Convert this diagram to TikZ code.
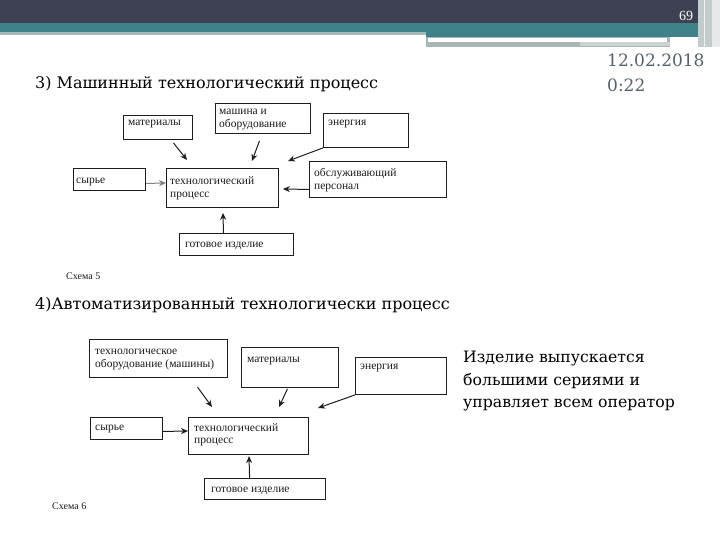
\documentclass[tikz,border=0pt]{standalone}
\usepackage{fontspec}
\setmainfont{Liberation Serif}
\newfontfamily\ttlfont{DejaVu Serif}
\usetikzlibrary{arrows.meta}
\definecolor{hdark}{HTML}{3E4152}
\definecolor{hteal}{HTML}{3F8189}
\definecolor{hlight}{HTML}{A7B9BC}
\definecolor{hgray}{HTML}{A9B6B8}
\definecolor{dategray}{HTML}{56626A}
\definecolor{boxline}{HTML}{1E1E1E}
\definecolor{boxtext}{HTML}{1A1A1A}
\begin{document}
\begin{tikzpicture}[x=1pt,y=-1pt,
  box/.style={draw=boxline,line width=0.9pt,rectangle,anchor=north west,inner sep=0pt},
  txt/.style={anchor=north west,inner sep=0pt,align=left,text=boxtext,
    font=\fontsize{11.5}{12.5}\selectfont},
  arr/.style={-{Stealth[length=7pt,width=6pt]},line width=1pt,draw=boxline},
  title/.style={anchor=base west,inner sep=0pt,font=\ttlfont\fontsize{16}{18}\selectfont},
  datestyle/.style={anchor=base west,inner sep=0pt,text=dategray,font=\ttlfont\fontsize{17}{24}\selectfont},
  schemecap/.style={anchor=base west,inner sep=0pt,font=\fontsize{10}{12}\selectfont,text=boxtext}]
\useasboundingbox (0,0) rectangle (720,540);
\fill[white] (0,0) rectangle (720,540);
% header
\fill[hdark] (0,0) rectangle (720,23);
\fill[hteal] (0,23) rectangle (700,32);
\fill[hlight] (0,32) rectangle (426,35);
\fill[hteal] (426,32) rectangle (700,37);
\fill[hgray] (426,37) rectangle (670,47);
\fill[white] (428,38) rectangle (667,42);
\fill[hgray!60] (580,42) rectangle (670,46);
\fill[hgray!70] (698,0) rectangle (712,47);
\fill[white!70!hgray] (712,0) rectangle (720,47);
\draw[white!80!hgray,line width=1pt] (704,0) -- (704,47);
\node[anchor=base,inner sep=0pt,text=white,font=\fontsize{14}{16}\selectfont] (pg) at (686,21) {69};
% date
\node[datestyle] (date) at (607,67) {12.02.2018};
\node[datestyle] (time) at (607,92) {0:22};
% titles
\node[title] (t1) at (35,89) {3) Машинный технологический процесс};
\node[title] (t2) at (35,309) {4)Автоматизированный технологически процесс};
\node[schemecap] (c5) at (66,279) {Схема 5};
\node[schemecap] (c6) at (52,509) {Схема 6};
\node[anchor=north west,inner sep=0pt,align=left,font=\ttlfont\fontsize{15.7}{22.5}\selectfont] (rt) at (463,351) {Изделие выпускается\\большими сериями и\\управляет всем оператор};

% Diagram 1
\node[box,minimum width=69pt,minimum height=24pt] (m1) at (123,115) {};
\node[txt] (m1t) at ([shift={(5,5)}]m1.north west) {материалы};
\node[box,minimum width=95pt,minimum height=30pt] (o1) at (215,103) {};
\node[txt] (o1t) at ([shift={(4,6)}]o1.north west) {машина и\\оборудование};
\node[box,minimum width=85pt,minimum height=34pt] (e1) at (323,113) {};
\node[txt] (e1t) at ([shift={(5,7)}]e1.north west) {энергия};
\node[box,minimum width=72pt,minimum height=22pt] (s1) at (73,168) {};
\node[txt] (s1t) at ([shift={(3,10)}]s1.north west) {сырье};
\node[box,minimum width=112pt,minimum height=39pt] (p1) at (166,168) {};
\node[txt,font=\fontsize{11.5}{13.5}\selectfont] (p1t) at ([shift={(4,8)}]p1.north west) {технологический\\процесс};
\node[box,minimum width=137pt,minimum height=36pt] (h1) at (309,161) {};
\node[txt,font=\fontsize{11.5}{13}\selectfont] (h1t) at ([shift={(5,7)}]h1.north west) {обслуживающий\\персонал};
\node[box,minimum width=114pt,minimum height=22pt] (g1) at (179,233) {};
\node[txt] (g1t) at ([shift={(6,9)}]g1.north west) {готовое изделие};

\coordinate (a1) at ([shift={(21,-8)}]p1.north west);
\coordinate (b1) at ([shift={(86,-7)}]p1.north west);
\coordinate (c1) at ([shift={(122,-7)}]p1.north west);
\coordinate (d1) at ([shift={(0,15)}]p1.north west);
\coordinate (e1e) at ([shift={(4,21)}]p1.north east);
\coordinate (f1) at ([shift={(57,5)}]p1.south west);
\draw[arr] ([shift={(15.5,3)}]m1.south) -- (a1);
\draw[arr] ([shift={(-3.5,7)}]o1.south) -- (b1);
\draw[arr] (e1.south west) -- (c1);
\draw[arr,draw=gray] ([shift={(0,4)}]s1.east) -- (d1);
\draw[arr] ([shift={(0,10)}]h1.west) -- (e1e);
\draw[arr] ([shift={(-13,0)}]g1.north) -- (f1);

% Diagram 2
\node[box,line width=1.2pt,minimum width=138pt,minimum height=38pt] (t2b) at (89,339) {};
\node[txt] (t2t) at ([shift={(6,10)}]t2b.north west) {технологическое\\оборудование (машины)};
\node[box,minimum width=97pt,minimum height=40pt] (m2) at (241,347) {};
\node[txt] (m2t) at ([shift={(6,10)}]m2.north west) {материалы};
\node[box,minimum width=91pt,minimum height=37pt] (e2) at (355,357) {};
\node[txt] (e2t) at ([shift={(5,7)}]e2.north west) {энергия};
\node[box,minimum width=72pt,minimum height=22pt] (s2) at (90,417) {};
\node[txt] (s2t) at ([shift={(5,8)}]s2.north west) {сырье};
\node[box,line width=1.1pt,minimum width=120pt,minimum height=37pt] (p2) at (188,417) {};
\node[txt] (p2t) at ([shift={(6,6)}]p2.north west) {технологический\\процесс};
\node[box,line width=1.2pt,minimum width=121pt,minimum height=21pt] (g2) at (204,478) {};
\node[txt] (g2t) at ([shift={(7,9)}]g2.north west) {готовое изделие};

\coordinate (a2) at ([shift={(24,-10)}]p2.north west);
\coordinate (b2) at ([shift={(91,-10)}]p2.north west);
\coordinate (c2) at ([shift={(9,-9)}]p2.north east);
\coordinate (d2) at ([shift={(0,14)}]p2.north west);
\coordinate (f2) at ([shift={(61,1)}]p2.south west);
\draw[arr] ([shift={(39,9)}]t2b.south) -- (a2);
\draw[arr] ([shift={(-2.5,1)}]m2.south) -- (b2);
\draw[arr] (e2.south west) -- (c2);
\draw[arr] ([shift={(0,3)}]s2.east) -- (d2);
\draw[arr] ([shift={(-15.5,0)}]g2.north) -- (f2);
\end{tikzpicture}
\end{document}
